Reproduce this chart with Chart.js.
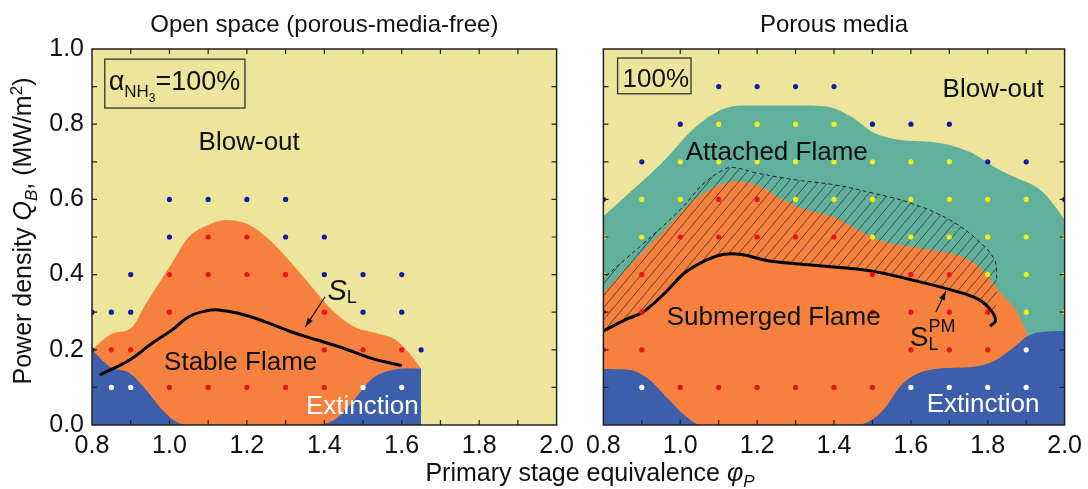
<!DOCTYPE html>
<html lang="en">
<head>
<meta charset="UTF-8">
<title>Operating maps - open space vs porous media</title>
<script src="https://cdn.jsdelivr.net/npm/chart.js"></script>
<style>
  body { margin: 0; background: #fff; font-family: "Liberation Sans", Arial, sans-serif; color: #111; }
  #wrap { position: relative; width: 1088px; height: 489px; overflow: hidden; }
  #leftChart { position: absolute; left: 0; top: 0; }
  #rightChart { position: absolute; left: 580px; top: 0; }
  .xtitle { position: absolute; left: 390px; width: 400px; top: 460px; text-align: center; font-size: 25px; line-height: 25px; white-space: nowrap; }
  .ytitle { position: absolute; left: -188px; top: 216px; width: 420px; height: 30px; line-height: 30px; text-align: center;
            font-size: 25px; white-space: nowrap; transform: rotate(-90deg); }
  sub, sup { font-size: 0.68em; line-height: 0; }
</style>
</head>
<body>
<div id="wrap">
  <canvas id="leftChart" width="580" height="489"></canvas>
  <canvas id="rightChart" width="508" height="489"></canvas>
  <div class="ytitle">Power density <i>Q<sub>B</sub></i>, (MW/m<sup>2</sup>)</div>
  <div class="xtitle">Primary stage equivalence <i>φ<sub>P</sub></i></div>
</div>
<script>
const FONT = '"Liberation Sans", Arial, sans-serif';

// ---- left panel: open space ----
const openFlameX = [0.80, 0.85, 0.90, 0.94, 1.00, 1.05, 1.10, 1.145, 1.20, 1.25, 1.30, 1.36, 1.42, 1.48, 1.535, 1.585, 1.62, 1.65];
const openFlameY = [0.20, 0.242, 0.257, 0.324, 0.42, 0.50, 0.532, 0.545, 0.535, 0.50, 0.448, 0.377, 0.306, 0.26, 0.244, 0.226, 0.19, 0.15];
const openExtX = [0.80, 0.846, 0.897, 0.94, 0.974, 1.016, 1.05, 1.365, 1.425, 1.476, 1.52, 1.56, 1.62, 1.65];
const openExtY = [0.20, 0.155, 0.138, 0.093, 0.049, 0.009, 0.0, 0.0, 0.013, 0.066, 0.12, 0.142, 0.15, 0.15];
const openSLX = [0.82, 0.897, 0.956, 1.007, 1.05, 1.093, 1.127, 1.178, 1.246, 1.314, 1.382, 1.45, 1.52, 1.60];
const openSLY = [0.133, 0.173, 0.218, 0.253, 0.288, 0.303, 0.306, 0.297, 0.275, 0.248, 0.226, 0.204, 0.178, 0.158];
const openBlue = [[1.0,0.6],[1.1,0.6],[1.2,0.6],[1.3,0.6],[1.0,0.5],[1.3,0.5],[1.4,0.5],[0.9,0.4],[1.4,0.4],[1.5,0.4],[1.6,0.4],
                  [0.8,0.3],[0.85,0.3],[0.9,0.3],[1.5,0.3],[1.6,0.3],[0.8,0.2],[1.65,0.2]];
const openRed = [[1.1,0.5],[1.2,0.5],[1.0,0.4],[1.1,0.4],[1.2,0.4],[1.3,0.4],[1.0,0.3],[1.4,0.3],[0.85,0.2],[0.9,0.2],[1.4,0.2],
                 [1.5,0.2],[1.6,0.2],[1.0,0.1],[1.1,0.1],[1.2,0.1],[1.3,0.1],[1.4,0.1]];
const openWhite = [[0.85,0.1],[0.9,0.1],[1.5,0.1],[1.6,0.1]];

// ---- right panel: porous media ----
const pmAttachedX = [0.8, 0.867, 0.952, 1.037, 1.105, 1.164, 1.29, 1.376, 1.445, 1.504, 1.564, 1.674, 1.758, 1.827, 1.886, 1.936, 1.987, 2.0];
const pmAttachedY = [0.555, 0.617, 0.697, 0.79, 0.838, 0.85, 0.85, 0.848, 0.82, 0.777, 0.759, 0.75, 0.724, 0.68, 0.652, 0.626, 0.565, 0.545];
const pmSubX = [0.8, 0.866, 0.952, 1.037, 1.105, 1.147, 1.207, 1.266, 1.326, 1.394, 1.462, 1.513, 1.589, 1.674, 1.732, 1.784, 1.833, 1.872, 1.904];
const pmSubY = [0.352, 0.422, 0.511, 0.60, 0.639, 0.648, 0.635, 0.60, 0.573, 0.555, 0.52, 0.493, 0.476, 0.462, 0.449, 0.414, 0.352, 0.308, 0.241];
const pmExtX = [0.8, 0.866, 0.918, 0.969, 1.012, 1.054, 1.445, 1.487, 1.53, 1.573, 1.614, 1.674, 1.758, 1.818, 1.872, 1.904, 1.955, 2.0];
const pmExtY = [0.149, 0.147, 0.122, 0.069, 0.025, 0.0, 0.0, 0.007, 0.042, 0.104, 0.135, 0.15, 0.154, 0.171, 0.21, 0.237, 0.249, 0.25];
const pmSLX = [0.8, 0.859, 0.901, 0.961, 1.012, 1.071, 1.113, 1.156, 1.232, 1.3, 1.402, 1.5, 1.598, 1.716, 1.776, 1.81, 1.82, 1.806];
const pmSLY = [0.25, 0.281, 0.299, 0.352, 0.405, 0.44, 0.454, 0.454, 0.436, 0.429, 0.42, 0.409, 0.387, 0.356, 0.334, 0.303, 0.277, 0.263];
const pmDashX = [0.78, 0.8, 0.901, 1.0, 1.063, 1.113, 1.138, 1.2, 1.3, 1.4, 1.5, 1.6, 1.7, 1.772, 1.817, 1.824];
const pmDashY = [0.37, 0.39, 0.48, 0.573, 0.644, 0.679, 0.685, 0.67, 0.652, 0.639, 0.617, 0.59, 0.546, 0.493, 0.44, 0.385];
const pmBlue = [[1.1,0.9],[1.2,0.9],[1.3,0.9],[1.4,0.9],[1.0,0.8],[1.5,0.8],[1.6,0.8],[1.7,0.8],[0.9,0.7],[1.8,0.7],[1.9,0.7],[0.8,0.6],[2.0,0.6]];
const pmYellow = [[1.1,0.8],[1.2,0.8],[1.3,0.8],[1.4,0.8],
                  [1.0,0.7],[1.1,0.7],[1.2,0.7],[1.3,0.7],[1.4,0.7],[1.5,0.7],[1.6,0.7],[1.7,0.7],
                  [0.9,0.6],[1.0,0.6],[1.3,0.6],[1.4,0.6],[1.5,0.6],[1.6,0.6],[1.7,0.6],[1.8,0.6],[1.9,0.6],
                  [0.8,0.5],[0.9,0.5],[1.5,0.5],[1.6,0.5],[1.7,0.5],[1.8,0.5],[1.9,0.5],[2.0,0.5],
                  [0.8,0.4],[1.8,0.4],[1.9,0.4],[2.0,0.4],[1.9,0.3],[2.0,0.3]];
const pmRed = [[1.1,0.6],[1.2,0.6],[1.0,0.5],[1.1,0.5],[1.2,0.5],[1.3,0.5],[1.4,0.5],[0.9,0.4],[1.5,0.4],[1.6,0.4],[1.7,0.4],
               [0.8,0.3],[0.9,0.3],[1.5,0.3],[1.6,0.3],[1.7,0.3],[1.8,0.3],[0.8,0.2],[0.9,0.2],[1.6,0.2],[1.7,0.2],[1.8,0.2],
               [1.0,0.1],[1.1,0.1],[1.2,0.1],[1.3,0.1],[1.4,0.1],[1.5,0.1]];
const pmWhite = [[1.9,0.2],[0.9,0.1],[1.6,0.1],[1.7,0.1],[1.8,0.1],[1.9,0.1]];

const C = { bg: '#ece59b', orange: '#f6803d', blue: '#3d5eab', teal: '#60b09b',
            dBlue: '#0a1ea6', red: '#e8141c', yellow: '#f4ee12', white: '#ffffff' };

function pts(xs, ys) { return xs.map((x, i) => ({ x: x, y: ys[i] })); }
function dots(list) { return list.map(p => ({ x: p[0], y: p[1] })); }

function region(xs, ys, color, order) {
  return { data: pts(xs, ys), backgroundColor: color, borderWidth: 0, pointRadius: 0,
           fill: 'origin', cubicInterpolationMode: 'monotone', order: order };
}
function curve(xs, ys, order, extra) {
  return Object.assign({ data: pts(xs, ys), borderColor: '#000', borderWidth: 3, pointRadius: 0,
           fill: false, tension: 0.4, order: order }, extra || {});
}
function dotSet(list, color) {
  return { data: dots(list), showLine: false, pointRadius: 2.6, pointBorderWidth: 0,
           pointBackgroundColor: color, clip: 0, order: 0 };
}

function hatchPattern() {
  const c = document.createElement('canvas');
  c.width = 10; c.height = 12;
  const g = c.getContext('2d');
  g.strokeStyle = '#333'; g.lineWidth = 0.8;
  g.beginPath();
  for (const dx of [-10, 0, 10]) { g.moveTo(dx, 12); g.lineTo(dx + 10, 0); }
  g.stroke();
  return g.createPattern(c, 'repeat');
}

// closed outline of the hatched zone: dashed edge forward, S_L^PM line back
const hatchX = pmDashX.concat([1.822], pmSLX.slice(0, 16).reverse(), [0.78]);
const hatchY = pmDashY.concat([0.32], pmSLY.slice(0, 16).reverse(), [0.24]);

function drawRuns(ctx, parts, x, y) {
  let cx = x;
  for (const r of parts) {
    ctx.font = (r.italic ? 'italic ' : '') + r.size + 'px ' + FONT;
    ctx.fillText(r.t, cx, y + (r.dy || 0));
    if (!r.keep) cx += ctx.measureText(r.t).width;
  }
}

function arrow(ctx, x0, y0, x1, y1) {
  const a = Math.atan2(y1 - y0, x1 - x0);
  ctx.beginPath(); ctx.moveTo(x0, y0); ctx.lineTo(x1, y1); ctx.stroke();
  ctx.beginPath();
  ctx.moveTo(x1, y1);
  ctx.lineTo(x1 - 9 * Math.cos(a) + 3 * Math.sin(a), y1 - 9 * Math.sin(a) - 3 * Math.cos(a));
  ctx.lineTo(x1 - 9 * Math.cos(a) - 3 * Math.sin(a), y1 - 9 * Math.sin(a) + 3 * Math.cos(a));
  ctx.closePath(); ctx.fill();
}

const panelPlugin = {
  id: 'panel',
  beforeDraw(chart, args, o) {
    const { ctx, chartArea: a } = chart;
    ctx.save();
    ctx.fillStyle = C.bg;
    ctx.fillRect(a.left, a.top, a.right - a.left, a.bottom - a.top);
    ctx.restore();
  },
  afterDraw(chart, args, o) {
    const { ctx, chartArea: a, scales } = chart;
    const X = v => scales.x.getPixelForValue(v), Y = v => scales.y.getPixelForValue(v);
    ctx.save();
    // frame + inward ticks
    ctx.strokeStyle = '#222'; ctx.lineWidth = 1.5;
    ctx.strokeRect(a.left, a.top, a.right - a.left, a.bottom - a.top);
    ctx.lineWidth = 1.2;
    ctx.beginPath();
    for (let i = 1; i < 12; i++) {
      const px = X(0.8 + i * 0.1);
      ctx.moveTo(px, a.bottom); ctx.lineTo(px, a.bottom - 5);
      ctx.moveTo(px, a.top); ctx.lineTo(px, a.top + 5);
    }
    for (let i = 1; i < 10; i++) {
      const py = Y(i * 0.1);
      ctx.moveTo(a.left, py); ctx.lineTo(a.left + 5, py);
      ctx.moveTo(a.right, py); ctx.lineTo(a.right - 5, py);
    }
    ctx.stroke();
    // panel title
    ctx.fillStyle = '#111';
    ctx.font = '24px ' + FONT; ctx.textAlign = 'center'; ctx.textBaseline = 'alphabetic';
    ctx.fillText(o.title, (a.left + a.right) / 2, 32);
    // region names
    ctx.textBaseline = 'middle';
    for (const n of o.notes) {
      ctx.font = '26px ' + FONT; ctx.fillStyle = n.color || '#111';
      ctx.fillText(n.text, X(n.x), Y(n.y));
    }
    // boxed label
    ctx.textAlign = 'left'; ctx.textBaseline = 'alphabetic'; ctx.fillStyle = '#111';
    const b = o.box;
    ctx.strokeStyle = '#333'; ctx.lineWidth = 1.3;
    ctx.strokeRect(X(b.x0), Y(b.y0), X(b.x1) - X(b.x0), Y(b.y1) - Y(b.y0));
    drawRuns(ctx, b.parts, X(b.tx), Y(b.ty));
    // S_L labels and arrows
    drawRuns(ctx, o.sl.parts, X(o.sl.x), Y(o.sl.y));
    ctx.strokeStyle = '#111'; ctx.fillStyle = '#111'; ctx.lineWidth = 1.2;
    const r = o.sl.arrow;
    arrow(ctx, X(r[0]), Y(r[1]), X(r[2]), Y(r[3]));
    ctx.restore();
  }
};

function options(showY, yWidth, padRight, panel) {
  return {
    responsive: false, animation: false,
    layout: { padding: { left: 0, right: padRight, top: 49, bottom: 0 }, autoPadding: false },
    plugins: { legend: { display: false }, tooltip: { enabled: false }, title: { display: false }, panel: panel },
    scales: {
      x: { type: 'linear', min: 0.8, max: 2.0,
           grid: { display: false, drawTicks: false }, border: { display: false },
           ticks: { stepSize: 0.2, padding: 6, color: '#111', font: { family: FONT, size: 25 },
                    maxRotation: 0, callback: v => v.toFixed(1) },
           afterFit: s => { s.height = 64; } },
      y: { type: 'linear', min: 0, max: 1.0,
           grid: { display: false, drawTicks: false }, border: { display: false },
           ticks: { display: showY, stepSize: 0.2, padding: 8, color: '#111', font: { family: FONT, size: 25 },
                    callback: v => v.toFixed(1) },
           afterFit: s => { s.width = yWidth; } }
    }
  };
}

new Chart(document.getElementById('leftChart'), {
  type: 'line',
  data: { datasets: [
    region(openFlameX, openFlameY, C.orange, 6),
    region(openExtX, openExtY, C.blue, 5),
    curve(openSLX, openSLY, 1),
    dotSet(openBlue, C.dBlue), dotSet(openRed, C.red), dotSet(openWhite, C.white)
  ] },
  options: options(true, 92, 18, {
    title: 'Open space (porous-media-free)',
    notes: [
      { text: 'Blow-out', x: 1.206, y: 0.75 },
      { text: 'Stable Flame', x: 1.184, y: 0.165 },
      { text: 'Extinction', x: 1.498, y: 0.048, color: '#fff' }
    ],
    box: { x0: 0.833, y0: 0.973, x1: 1.195, y1: 0.843, tx: 0.843, ty: 0.891,
           parts: [{ t: 'α', size: 27 }, { t: 'NH', size: 17, dy: 7 }, { t: '3', size: 12, dy: 12 }, { t: '=100%', size: 27 }] },
    sl: { x: 1.408, y: 0.332, parts: [{ t: 'S', italic: true, size: 29 }, { t: 'L', size: 18, dy: 3 }],
          arrow: [1.402, 0.341, 1.351, 0.261] }
  }),
  plugins: [panelPlugin]
});

new Chart(document.getElementById('rightChart'), {
  type: 'line',
  data: { datasets: [
    region(pmAttachedX, pmAttachedY, C.teal, 7),
    region(pmSubX, pmSubY, C.orange, 6),
    region(pmExtX, pmExtY, C.blue, 5),
    { data: pts(hatchX, hatchY), fill: 'shape', backgroundColor: hatchPattern(), borderWidth: 0, pointRadius: 0, tension: 0.3, order: 4 },
    curve(pmDashX, pmDashY, 3, { borderWidth: 1, borderDash: [4, 3], borderColor: '#222' }),
    curve(pmSLX, pmSLY, 2),
    dotSet(pmBlue, C.dBlue), dotSet(pmYellow, C.yellow), dotSet(pmRed, C.red), dotSet(pmWhite, C.white)
  ] },
  options: options(false, 17, 20, {
    title: 'Porous media',
    notes: [
      { text: 'Blow-out', x: 1.814, y: 0.891 },
      { text: 'Attached Flame', x: 1.251, y: 0.724 },
      { text: 'Submerged Flame', x: 1.243, y: 0.284 },
      { text: 'Extinction', x: 1.788, y: 0.053, color: '#fff' }
    ],
    box: { x0: 0.837, y0: 0.976, x1: 1.028, y1: 0.881, tx: 0.85, ty: 0.899,
           parts: [{ t: '100%', size: 26 }] },
    sl: { x: 1.597, y: 0.21, parts: [{ t: 'S', size: 28 }, { t: 'L', size: 18, dy: 4, keep: true }, { t: 'PM', size: 18, dy: -14 }],
          arrow: [1.665, 0.30, 1.691, 0.356] }
  }),
  plugins: [panelPlugin]
});
</script>
</body>
</html>
